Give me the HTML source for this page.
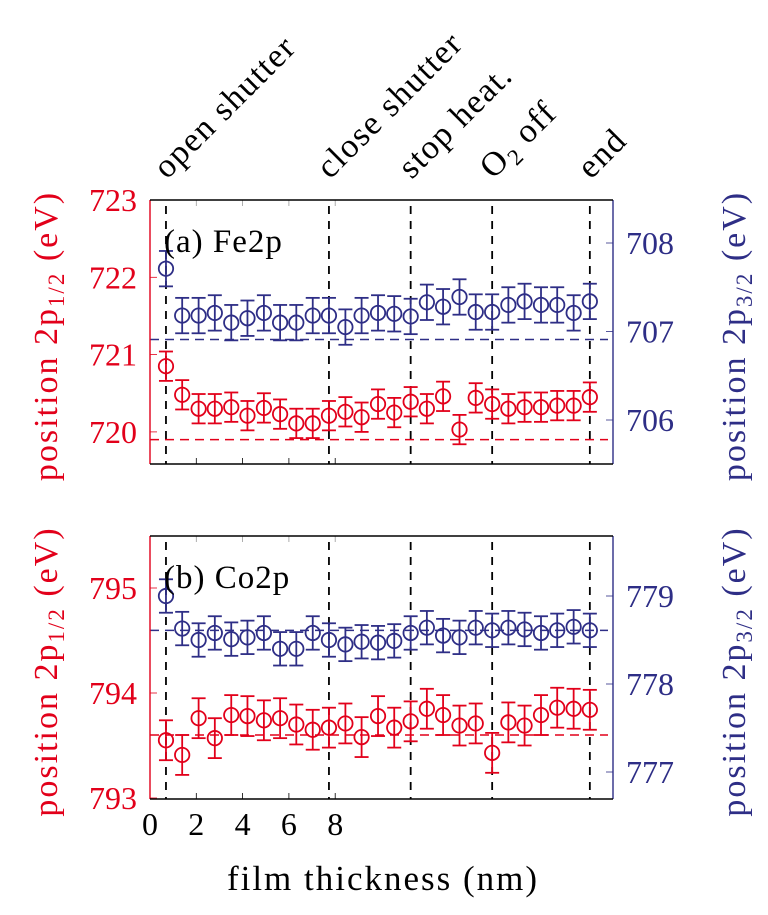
<!DOCTYPE html>
<html><head><meta charset="utf-8"><style>
html,body{margin:0;padding:0;background:#fff;}
svg, svg text, svg tspan{font-family:"Liberation Serif",serif;}
svg{display:block;}
</style></head><body>
<svg id="chart" width="768" height="915" viewBox="0 0 768 915" xmlns="http://www.w3.org/2000/svg">
<g id="root" font-family="Liberation Serif, serif"></g>
</svg>
<script>
const thickness = [0.69,1.39,2.10,2.80,3.51,4.21,4.92,5.62,6.32,7.03,7.73,8.44,9.14,9.85,10.55,11.26,11.96,12.66,13.37,14.07,14.78,15.48,16.18,16.89,17.59,18.30,19.00];
const fe12 = [720.85,720.48,720.30,720.30,720.32,720.21,720.31,720.23,720.11,720.11,720.21,720.26,720.19,720.36,720.25,720.39,720.30,720.46,720.03,720.44,720.36,720.30,720.32,720.32,720.34,720.34,720.45];
const fe32 = [707.71,707.18,707.18,707.21,707.10,707.15,707.21,707.10,707.10,707.18,707.18,707.05,707.18,707.21,707.20,707.17,707.33,707.28,707.39,707.22,707.22,707.30,707.34,707.30,707.30,707.21,707.34];
const co12 = [793.55,793.41,793.76,793.57,793.79,793.78,793.74,793.76,793.70,793.65,793.67,793.71,793.58,793.78,793.67,793.73,793.85,793.79,793.69,793.71,793.43,793.72,793.69,793.79,793.86,793.85,793.84];
const co32 = [779.00,778.63,778.50,778.58,778.51,778.53,778.58,778.40,778.40,778.58,778.50,778.45,778.48,778.47,778.49,778.58,778.64,778.55,778.53,778.64,778.61,778.64,778.62,778.58,778.61,778.65,778.61];
const errFe12 = 0.19, errFe32 = 0.2, errCo12 = 0.19, errCo32 = 0.19;
const refFe12 = 719.90, refFe32 = 706.91, refCo12 = 793.60, refCo32 = 778.61;
const eventPos = [0.69, 7.73, 11.26, 14.78, 19.00];
const eventLabels = ["open shutter","close shutter","stop heat.","O2 off","end"];
const xTicks = [0,2,4,6,8];
const feLeftTicks = [720,721,722,723];
const feRightTicks = [706,707,708];
const coLeftTicks = [793,794,795];
const coRightTicks = [777,778,779];

const RED="#e2001a", BLUE="#2e2e86";
const NS="http://www.w3.org/2000/svg";
const FF="Liberation Serif, serif";
const root=document.getElementById('root');
function el(tag,attrs,parent){const e=document.createElementNS(NS,tag);for(const k in attrs)e.setAttribute(k,attrs[k]);(parent||root).appendChild(e);return e;}
function sub(t,main,subtxt,rest,fs){
 el('tspan',{},t).textContent=main;
 el('tspan',{'font-size':fs,dy:7},t).textContent=subtxt;
 el('tspan',{dy:-7},t).textContent=rest;
}
const X0=150, X1=613;
const xs = v => 150 + v*23.15;

const panels=[
 {name:'fe',top:200,bot:464,l0:723,lY:200,lpx:77.3,r0:708,rY:243,rpx:88.5,left:fe12,right:fe32,el:errFe12,er:errFe32,refL:refFe12,refR:refFe32,lt:feLeftTicks,rt:feRightTicks,label:'(a) Fe2p'},
 {name:'co',top:536,bot:799,l0:795,lY:588,lpx:105,r0:779,rY:596,rpx:88,left:co12,right:co32,el:errCo12,er:errCo32,refL:refCo12,refR:refCo32,lt:coLeftTicks,rt:coRightTicks,label:'(b) Co2p'}
];

panels.forEach(p=>{
 const yl=v=>p.lY+(p.l0-v)*p.lpx;
 const yr=v=>p.rY+(p.r0-v)*p.rpx;
 const g=el('g',{});
 
 
 xTicks.forEach(t=>{
  el('line',{x1:xs(t),x2:xs(t),y1:p.bot,y2:p.bot-6,stroke:'#000','stroke-width':0.8},g);
  el('line',{x1:xs(t),x2:xs(t),y1:p.top,y2:p.top+6,stroke:'#999','stroke-width':0.8},g);
 });
 p.lt.forEach(t=>{
  const y=yl(t);
  el('line',{x1:X0,x2:X0+7,y1:y,y2:y,stroke:RED,'stroke-width':0.8},g);
  const tx=el('text',{x:137,y:y+11,'text-anchor':'end','font-size':32,fill:RED,'font-family':FF},g);
  tx.textContent=t;
  
  
 });
 p.rt.forEach(t=>{
  const y=yr(t);
  el('line',{x1:X1,x2:X1-7,y1:y,y2:y,stroke:BLUE,'stroke-width':0.8},g);
  const tx=el('text',{x:626,y:y+11,'font-size':32,fill:BLUE,'font-family':FF},g);
  tx.textContent=t;
  
  
 });
 eventPos.forEach(v=>{
  el('line',{x1:xs(v),x2:xs(v),y1:p.top+6,y2:p.bot,stroke:'#000','stroke-width':1.8,'stroke-dasharray':'8,7'},g);
 });
 el('line',{x1:X0,x2:X1-5,y1:yl(p.refL),y2:yl(p.refL),stroke:RED,'stroke-width':1.5,'stroke-dasharray':'9,6'},g);
 el('line',{x1:X0,x2:X1-5,y1:yr(p.refR),y2:yr(p.refR),stroke:BLUE,'stroke-width':1.5,'stroke-dasharray':'9,6'},g);
 [[p.left,yl,RED,p.el,'left-series'],[p.right,yr,BLUE,p.er,'right-series']].forEach(([arr,yf,c,er,nm])=>{
  const sg=el('g',{},g);
  
  
  arr.forEach((v,i)=>{
   const x=xs(thickness[i]), y=yf(v), y1=yf(v+er), y2=yf(v-er);
   el('line',{x1:x,x2:x,y1:y1,y2:y2,stroke:c,'stroke-width':1.8},sg);
   el('line',{x1:x-7,x2:x+7,y1:y1,y2:y1,stroke:c,'stroke-width':1.8},sg);
   el('line',{x1:x-7,x2:x+7,y1:y2,y2:y2,stroke:c,'stroke-width':1.8},sg);
   const m=el('circle',{cx:x,cy:y,r:7.2,fill:'none',stroke:c,'stroke-width':1.8},sg);
   
   
  });
 });
 el('line',{x1:X0,x2:X0,y1:p.top,y2:p.bot,stroke:RED,'stroke-width':1.4},g);
 el('line',{x1:X1,x2:X1,y1:p.top,y2:p.bot,stroke:BLUE,'stroke-width':1.4},g);
 el('line',{x1:X0,x2:X1,y1:p.top,y2:p.top,stroke:'#000','stroke-width':1.4},g);
 el('line',{x1:X0,x2:X1,y1:p.bot,y2:p.bot,stroke:'#000','stroke-width':1.4},g);
 const lab=el('text',{x:164,y:p.top+52,'font-size':33,fill:'#000','font-family':FF,'letter-spacing':1},g);
 lab.textContent=p.label;
 
 
 const cy=(p.top+p.bot)/2+4;
 const lt=el('text',{x:0,y:0,'font-size':34,fill:RED,'text-anchor':'middle','font-family':FF,'letter-spacing':2,transform:`translate(57,${cy}) rotate(-90)`},g);
 sub(lt,'position 2p','1/2',' (eV)',23);
 
 
 const rt=el('text',{x:0,y:0,'font-size':34,fill:BLUE,'text-anchor':'middle','font-family':FF,'letter-spacing':2,transform:`translate(745,${cy}) rotate(-90)`},g);
 sub(rt,'position 2p','3/2',' (eV)',23);
 
 
});
xTicks.forEach(t=>{
 const tx=el('text',{x:xs(t),y:835,'text-anchor':'middle','font-size':32,fill:'#000','font-family':FF});
 tx.textContent=t;
 
 
});
const xt=el('text',{x:383,y:890,'text-anchor':'middle','font-size':35,fill:'#000','font-family':FF,'letter-spacing':2});
xt.textContent='film thickness (nm)';


eventLabels.forEach((s,i)=>{
 const x=xs(eventPos[i])+1;
 const t=el('text',{x:0,y:0,'font-size':34,fill:'#000','font-family':FF,'letter-spacing':1.5,transform:`translate(${x},${180}) rotate(-45)`});
 if(s==='O2 off') sub(t,'O','2',' off',23);
 else t.textContent=s;
 
 
});
</script>
</body></html>
